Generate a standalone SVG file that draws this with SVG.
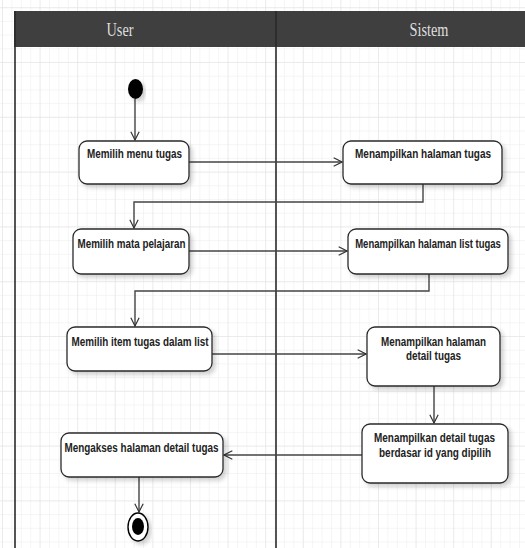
<svg xmlns="http://www.w3.org/2000/svg" width="525" height="548" viewBox="0 0 525 548">
  <defs>
    <pattern id="grid-minor" patternUnits="userSpaceOnUse" x="2" y="7.2" width="9.4" height="13.7">
      <path d="M0 0V13.7M0 0H9.4" fill="none" stroke="#ececec" stroke-width="1"/>
    </pattern>
    <pattern id="grid-major" patternUnits="userSpaceOnUse" x="2" y="7.2" width="37.6" height="54.8">
      <path d="M0 0V54.8M0 0H37.6" fill="none" stroke="#e2e2e2" stroke-width="1"/>
    </pattern>
    <filter id="shadow" x="-10%" y="-10%" width="130%" height="140%">
      <feDropShadow dx="3" dy="3" stdDeviation="2" flood-color="#000" flood-opacity="0.18"/>
    </filter>
    <marker id="open-arrow" viewBox="0 0 12 12" refX="11" refY="6" markerWidth="10" markerHeight="10" markerUnits="userSpaceOnUse" orient="auto">
      <path d="M1 1L11 6L1 11" fill="none" stroke="#333" stroke-width="1.4"/>
    </marker>
    <style>
      .lane-title { font-family: "Liberation Serif", "Times New Roman", serif; font-size: 18px; fill: #dedede; text-anchor: middle; }
      .act rect { fill: #fff; stroke: #2a2a2a; stroke-width: 1.3; filter: url(#shadow); }
      .act text { font-family: "Liberation Sans", Arial, sans-serif; font-weight: bold; font-size: 12.5px; fill: #222; text-anchor: middle; }
      .flow { fill: none; stroke: #444; stroke-width: 1.4; marker-end: url(#open-arrow); }
      .lane-line { stroke: #2a2a2a; stroke-width: 1.6; }
    </style>
  </defs>

  <!-- background grid -->
  <rect width="525" height="548" fill="#fff"/>
  <rect width="525" height="548" fill="url(#grid-minor)"/>
  <rect width="525" height="548" fill="url(#grid-major)"/>

  <!-- swimlanes -->
  <g id="lanes">
    <rect x="14" y="11" width="511" height="36" fill="#3f3f3f"/>
    <line class="lane-line" x1="15" y1="11" x2="15" y2="548"/>
    <line class="lane-line" x1="276" y1="11" x2="276" y2="548"/>
    <text class="lane-title" x="120" y="36" textLength="27" lengthAdjust="spacingAndGlyphs">User</text>
    <text class="lane-title" x="429" y="36" textLength="39" lengthAdjust="spacingAndGlyphs">Sistem</text>
  </g>

  <!-- connectors -->
  <g id="connectors">
    <path class="flow" d="M135 99V140"/>
    <path class="flow" d="M189 162H342"/>
    <path class="flow" d="M423 184V202H134V228"/>
    <path class="flow" d="M189 251H347"/>
    <path class="flow" d="M429 274V291H135V326"/>
    <path class="flow" d="M212 354H366"/>
    <path class="flow" d="M434 386V423"/>
    <path class="flow" d="M362 455H224"/>
    <path class="flow" d="M139 477V512"/>
  </g>

  <!-- start node -->
  <g id="start">
    <ellipse cx="135.5" cy="89" rx="7.5" ry="10" fill="#000" filter="url(#shadow)"/>
  </g>

  <g id="memilih-menu" class="act">
    <rect x="79" y="141" width="110" height="43" rx="8"/>
    <text x="134.5" y="158" textLength="95" lengthAdjust="spacingAndGlyphs">Memilih menu tugas</text>
  </g>

  <g id="tampil-halaman" class="act">
    <rect x="343" y="141" width="159" height="43" rx="8"/>
    <text x="423" y="158" textLength="136" lengthAdjust="spacingAndGlyphs">Menampilkan halaman tugas</text>
  </g>

  <g id="memilih-mapel" class="act">
    <rect x="73" y="229" width="116" height="45" rx="8"/>
    <text x="131.5" y="248" textLength="108" lengthAdjust="spacingAndGlyphs">Memilih mata pelajaran</text>
  </g>

  <g id="tampil-list" class="act">
    <rect x="348" y="229" width="160" height="45" rx="8"/>
    <!-- condensed horizontally so the long label fits the box -->
    <text transform="translate(428 248) scale(0.76 1)" x="0" y="0">Menampilkan halaman list tugas</text>
  </g>

  <g id="memilih-item" class="act">
    <rect x="67" y="327" width="145" height="44" rx="8"/>
    <text x="140" y="346" textLength="137" lengthAdjust="spacingAndGlyphs">Memilih item tugas dalam list</text>
  </g>

  <g id="tampil-detail" class="act">
    <rect x="367" y="327" width="133" height="59" rx="8"/>
    <text x="433.5" y="346" textLength="105" lengthAdjust="spacingAndGlyphs">Menampilkan halaman</text>
    <text x="433.5" y="360" textLength="55" lengthAdjust="spacingAndGlyphs">detail tugas</text>
  </g>

  <g id="tampil-detail-id" class="act">
    <rect x="362" y="424" width="146" height="59" rx="8"/>
    <text x="434.5" y="442" textLength="121" lengthAdjust="spacingAndGlyphs">Menampilkan detail tugas</text>
    <text x="435" y="457" textLength="112" lengthAdjust="spacingAndGlyphs">berdasar id yang dipilih</text>
  </g>

  <g id="mengakses-detail" class="act">
    <rect x="61" y="433" width="162" height="44" rx="8"/>
    <text x="141.5" y="452" textLength="154" lengthAdjust="spacingAndGlyphs">Mengakses halaman detail tugas</text>
  </g>

  <!-- end node -->
  <g id="end">
    <ellipse cx="138" cy="527" rx="10" ry="14" fill="#fff" stroke="#000" stroke-width="1.4" filter="url(#shadow)"/>
    <ellipse cx="138" cy="526.5" rx="6" ry="8.5" fill="#000"/>
  </g>
</svg>
